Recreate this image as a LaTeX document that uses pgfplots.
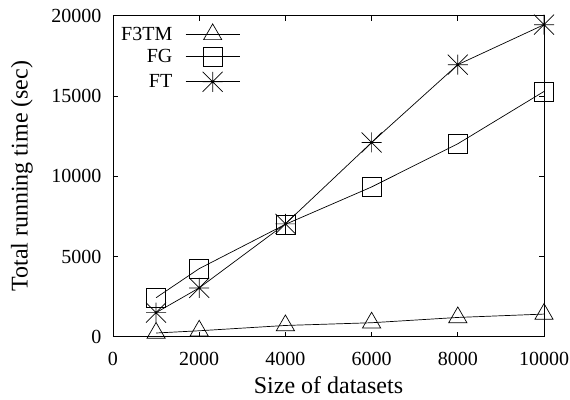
\documentclass[border=0pt]{standalone}
\usepackage{fontspec}
\setmainfont{Liberation Serif}
\usepackage{pgfplots}
\pgfplotsset{compat=1.18}
\pgfdeclareplotmark{gpstar}{%
 \pgfpathmoveto{\pgfqpoint{-\pgfplotmarksize}{0pt}}\pgfpathlineto{\pgfqpoint{\pgfplotmarksize}{0pt}}%
 \pgfpathmoveto{\pgfqpoint{0pt}{-\pgfplotmarksize}}\pgfpathlineto{\pgfqpoint{0pt}{\pgfplotmarksize}}%
 \pgfpathmoveto{\pgfqpoint{-\pgfplotmarksize}{-\pgfplotmarksize}}\pgfpathlineto{\pgfqpoint{\pgfplotmarksize}{\pgfplotmarksize}}%
 \pgfpathmoveto{\pgfqpoint{-\pgfplotmarksize}{\pgfplotmarksize}}\pgfpathlineto{\pgfqpoint{\pgfplotmarksize}{-\pgfplotmarksize}}%
 \pgfusepathqstroke}
\begin{document}
\begin{tikzpicture}
\useasboundingbox (-113pt,-62.3pt) rectangle (457pt,336.7pt);
\begin{axis}[
  at={(0,0)}, anchor=south west,
  scale only axis, width=431pt, height=321pt,
  xmin=0, xmax=10000, ymin=0, ymax=20000,
  xtick={0,2000,...,10000}, ytick={0,5000,...,20000},
  scaled ticks=false,
  /pgf/number format/.cd, 1000 sep={}, assume math mode=true, /pgfplots/.cd,
  tick align=inside, major tick length=5pt,
  axis line style={line width=0.8pt},
  tick style={line width=0.8pt, black},
  ticklabel style={font=\fontsize{20}{22}\selectfont, inner sep=0pt},
  xticklabel style={anchor=north, yshift=-15pt},
  yticklabel style={anchor=east, xshift=-11.3pt},
  xlabel={Size of datasets}, ylabel={Total running time (sec)},
  label style={font=\fontsize{24}{28}\selectfont},
  xlabel style={at={(axis description cs:0.5,-0.1765)}, anchor=base},
  ylabel style={at={(axis description cs:-0.2111,0.5)}, anchor=center},
  legend plot pos=right,
  legend cell align=right,
  legend style={at={(axis description cs:0,1)}, anchor=north west, draw=none, fill=none,
    font=\fontsize{20}{24}\selectfont, xshift=5pt, yshift=-6pt,
    nodes={inner sep=0pt}, row sep=5.5pt, /tikz/every odd column/.append style={column sep=13pt}},
  legend image code/.code={\draw[mark repeat=2, mark phase=2] plot coordinates {(0pt,0pt)(27pt,0pt)(54pt,0pt)};},
  every axis plot/.append style={black, line width=0.7pt, mark options={solid, line width=0.7pt}},
]
\addplot[mark=triangle, mark size=10.5pt] coordinates {(1000,230) (2000,370) (4000,700) (6000,870) (8000,1200) (10000,1410)};
\addlegendentry{F3TM}
\addplot[mark=square, mark size=9.5pt] coordinates {(1000,2430) (2000,4240) (4000,7000) (6000,9330) (8000,12020) (10000,15280)};
\addlegendentry{FG}
\addplot[mark=gpstar, mark size=10pt] coordinates {(1000,1500) (2000,3040) (4000,7030) (6000,12100) (8000,16950) (10000,19440)};
\addlegendentry{FT}
\end{axis}
\end{tikzpicture}
\end{document}
